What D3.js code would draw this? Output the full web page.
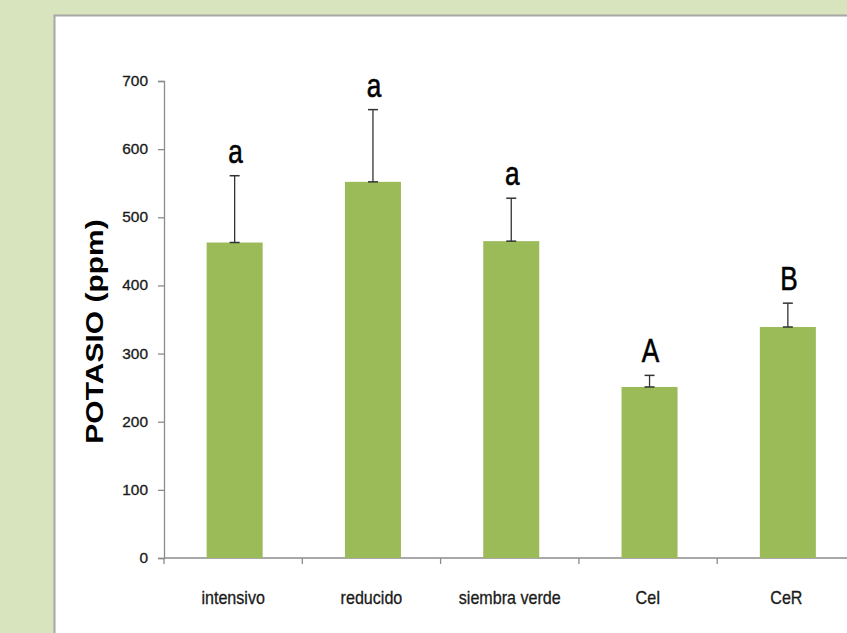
<!DOCTYPE html>
<html>
<head>
<meta charset="utf-8">
<script src="https://cdn.jsdelivr.net/npm/d3@7"></script>
<style>
  html, body { margin: 0; padding: 0; background: #d8e4bd; }
  svg { display: block; }
</style>
</head>
<body>
<svg id="chart" width="847" height="633"></svg>
<script>
// Potassium content by management system
const categories = ["intensivo", "reducido", "siembra verde", "CeI", "CeR"];
const means      = [463, 552, 465, 251, 339];
const errors     = [98, 106, 63, 17, 35];
const groupLabels = ["a", "a", "a", "A", "B"];
const yTicks     = [0, 100, 200, 300, 400, 500, 600, 700];

const svg = d3.select("#chart");
const W = 847, H = 633;

// White chart panel with a grey frame
svg.append("rect")
  .attr("x", 54.5).attr("y", 15.5)
  .attr("width", W).attr("height", H)
  .attr("fill", "#ffffff")
  .attr("stroke", "#a6a6a6").attr("stroke-width", 2);

const plotLeft = 164, plotBottom = 558, plotTop = 81;
const step = 138.3;

const y = d3.scaleLinear().domain([0, 700]).range([plotBottom, plotTop]);
const x = d3.scaleBand().domain(categories)
  .range([plotLeft, plotLeft + step * categories.length])
  .padding(0);
const barW = x.bandwidth() * 0.405;

const font = "'Liberation Sans', Arial, sans-serif";
const axisColor = "#8c8c8c";
const textColor = "#1a1a1a";

// Y axis line and ticks
const yAxis = svg.append("g")
  .attr("transform", `translate(${plotLeft},0)`)
  .call(d3.axisLeft(y).tickValues(yTicks).tickSize(6).tickFormat(""));
yAxis.select(".domain").attr("stroke", axisColor).attr("stroke-width", 1.3);
yAxis.selectAll(".tick line").attr("stroke", axisColor).attr("stroke-width", 1.3);

// Y tick labels (slightly widened digits)
svg.selectAll(".ylab").data(yTicks).join("text")
  .attr("class", "ylab")
  .attr("transform", d => `translate(148,${y(d) + 5}) scale(1.1,1)`)
  .attr("text-anchor", "end")
  .attr("font-family", font).attr("font-size", 14)
  .attr("fill", textColor).attr("stroke", textColor).attr("stroke-width", 0.3)
  .text(d => d);

// X axis baseline and boundary ticks
svg.append("line")
  .attr("x1", plotLeft).attr("x2", W)
  .attr("y1", plotBottom).attr("y2", plotBottom)
  .attr("stroke", axisColor).attr("stroke-width", 1.3);
const bounds = categories.map(c => x(c)).concat([x(categories[categories.length - 1]) + x.bandwidth()]);
svg.selectAll(".xtick").data(bounds).join("line")
  .attr("class", "xtick")
  .attr("x1", d => d).attr("x2", d => d)
  .attr("y1", plotBottom).attr("y2", plotBottom + 6)
  .attr("stroke", axisColor).attr("stroke-width", 1.3);

svg.selectAll(".xlabel").data(categories).join("text")
  .attr("class", "xlabel")
  .attr("transform", d => `translate(${x(d) + x.bandwidth() / 2},604) scale(0.92,1)`)
  .attr("text-anchor", "middle")
  .attr("font-family", font).attr("font-size", 17.5)
  .attr("fill", textColor).attr("stroke", textColor).attr("stroke-width", 0.3)
  .text(d => d);

// Bars
const cx = d => x(d) + x.bandwidth() / 2 + 1.5;
svg.selectAll(".bar").data(categories).join("rect")
  .attr("class", "bar")
  .attr("x", d => cx(d) - barW / 2)
  .attr("y", (d, i) => y(means[i]))
  .attr("width", barW)
  .attr("height", (d, i) => plotBottom - y(means[i]))
  .attr("fill", "#9bbb59");

// Error bars (upper only)
const eb = svg.selectAll(".err").data(categories).join("g").attr("class", "err");
eb.append("line")
  .attr("x1", d => cx(d)).attr("x2", d => cx(d))
  .attr("y1", (d, i) => y(means[i]))
  .attr("y2", (d, i) => y(means[i] + errors[i]))
  .attr("stroke", "#333").attr("stroke-width", 1.3);
eb.append("line")
  .attr("x1", d => cx(d) - 5).attr("x2", d => cx(d) + 5)
  .attr("y1", (d, i) => y(means[i] + errors[i]))
  .attr("y2", (d, i) => y(means[i] + errors[i]))
  .attr("stroke", "#333").attr("stroke-width", 1.5);
eb.append("line")
  .attr("x1", d => cx(d) - 5).attr("x2", d => cx(d) + 5)
  .attr("y1", (d, i) => y(means[i]))
  .attr("y2", (d, i) => y(means[i]))
  .attr("stroke", "#333").attr("stroke-width", 1.5);

// Significance letters (condensed)
svg.selectAll(".sig").data(categories).join("text")
  .attr("class", "sig")
  .attr("transform", (d, i) => `translate(${cx(d) + 1},${y(means[i] + errors[i]) - 13}) scale(0.77,1)`)
  .attr("text-anchor", "middle")
  .attr("font-family", font).attr("font-size", 34)
  .attr("fill", "#000").attr("stroke", "#000").attr("stroke-width", 0.6)
  .text((d, i) => groupLabels[i]);

// Y axis title
svg.append("text")
  .attr("transform", "translate(103,331.5) rotate(-90) scale(1.25,1)")
  .attr("text-anchor", "middle")
  .attr("font-family", font)
  .attr("font-weight", "bold").attr("font-size", 24).attr("fill", "#000")
  .text("POTASIO (ppm)");
</script>
</body>
</html>
